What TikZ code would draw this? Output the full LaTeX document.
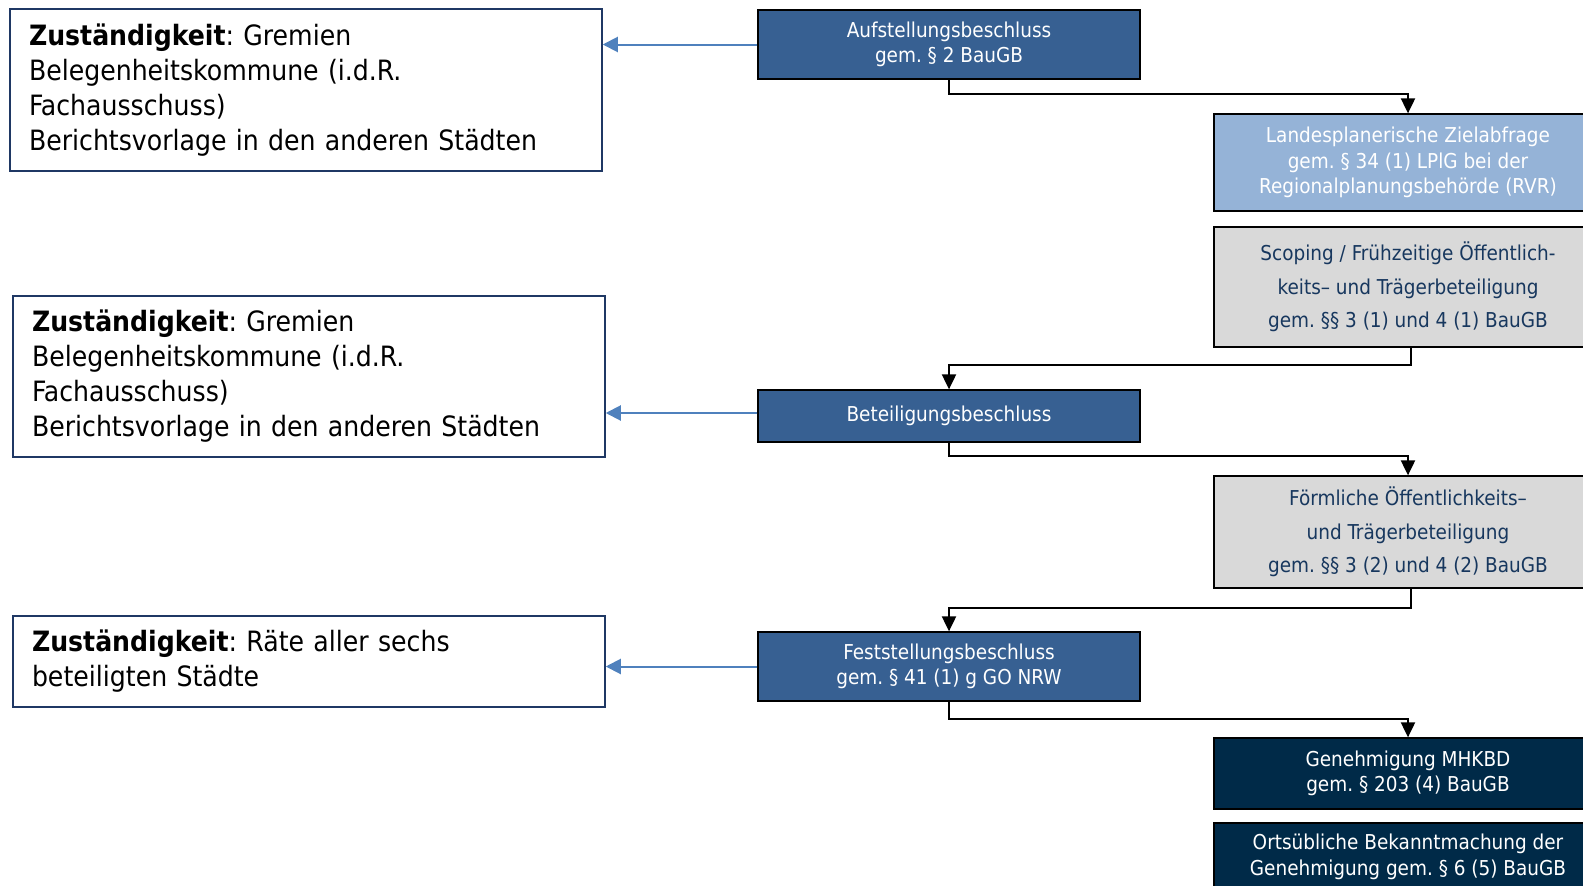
\documentclass[tikz,border=0pt]{standalone}
\usepackage{fontspec}
\setmainfont{DejaVu Sans Condensed}
\frenchspacing
\usetikzlibrary{arrows.meta, positioning}
\definecolor{beschlussblau}{RGB}{55, 96, 146}
\definecolor{hellblau}{RGB}{149, 179, 215}
\definecolor{hellgrau}{RGB}{217, 217, 217}
\definecolor{grautext}{RGB}{23, 55, 94}
\definecolor{nachtblau}{RGB}{0, 42, 72}
\definecolor{randblau}{RGB}{31, 56, 100}
\definecolor{pfeilblau}{RGB}{79, 129, 189}

\begin{document}
\begin{tikzpicture}[
    x=1pt, y=-1pt,
    zust/.style={draw=randblau, line width=1.5pt, align=left, text width=554pt,
                 inner xsep=19pt, inner ysep=0pt, font=\fontsize{28}{35}\selectfont},
    beschluss/.style={draw=black, line width=1.3pt, fill=beschlussblau, text=white,
                      align=center, minimum width=382pt, inner sep=0pt,
                      font=\fontsize{20.5}{25.5}\selectfont},
    schritt/.style={draw=black, line width=1.3pt, align=center, minimum width=388pt,
                    inner sep=0pt, font=\fontsize{20.5}{25.5}\selectfont},
    pfeil/.style={-{Triangle[length=15pt, width=14pt]}, line width=2pt, black},
    bezug/.style={-{Triangle[length=15pt, width=15pt]}, line width=2pt, pfeilblau}
  ]
    \useasboundingbox (0,0) rectangle (1583,886);
    \clip (0,0) rectangle (1583,886);

    % Zuständigkeiten links
    \node[zust, minimum height=162pt] (zust1) at (306,90)
      {\textbf{Zuständigkeit}: Gremien\\Belegenheitskommune (i.d.R.\\Fachausschuss)\\Berichtsvorlage in den anderen Städten};
    \node[zust, minimum height=161pt] (zust2) at (309,376.5)
      {\textbf{Zuständigkeit}: Gremien\\Belegenheitskommune (i.d.R.\\Fachausschuss)\\Berichtsvorlage in den anderen Städten};
    \node[zust, minimum height=91pt] (zust3) at (309,661.5)
      {\textbf{Zuständigkeit}: Räte aller sechs\\beteiligten Städte};

    % Beschluesse Mitte
    \node[beschluss, minimum height=69pt] (aufst) at (949,44.5)
      {Aufstellungsbeschluss\\gem. § 2 BauGB};
    \node[beschluss, minimum height=52pt] (beteil) at (949,416)
      {Beteiligungsbeschluss};
    \node[beschluss, minimum height=69pt] (festst) at (949,666.5)
      {Feststellungsbeschluss\\gem. § 41 (1) g GO NRW};

    % Verfahrensschritte rechts
    \node[schritt, fill=hellblau, text=white, minimum height=97pt] (landes) at (1408,162.5)
      {Landesplanerische Zielabfrage\\gem. § 34 (1) LPlG bei der\\Regionalplanungsbehörde (RVR)};
    \node[schritt, fill=hellgrau, text=grautext, minimum height=120pt,
          font=\fontsize{20.5}{33.5}\selectfont] (scoping) at (1408,287)
      {Scoping / Frühzeitige Öffentlich-\\keits– und Trägerbeteiligung\\gem. §§ 3 (1) und 4 (1) BauGB};
    \node[schritt, fill=hellgrau, text=grautext, minimum height=112pt,
          font=\fontsize{20.5}{33.5}\selectfont] (foerml) at (1408,532)
      {Förmliche Öffentlichkeits–\\und Trägerbeteiligung\\gem. §§ 3 (2) und 4 (2) BauGB};
    \node[schritt, fill=nachtblau, text=white, minimum height=71pt] (genehm) at (1408,773.5)
      {Genehmigung MHKBD\\gem. § 203 (4) BauGB};
    \node[schritt, fill=nachtblau, text=white, minimum height=68pt] (bekannt) at (1408,857)
      {Ortsübliche Bekanntmachung der\\Genehmigung gem. § 6 (5) BauGB};

    % Verbindungen
    \draw[pfeil] (aufst.south) -- ++(0,14) -| (landes.north);
    \draw[pfeil] ([xshift=3pt]scoping.south) -- ++(0,17) -| (beteil.north);
    \draw[pfeil] (beteil.south) -- ++(0,13) -| (foerml.north);
    \draw[pfeil] ([xshift=3pt]foerml.south) -- ++(0,19) -| (festst.north);
    \draw[pfeil] (festst.south) -- ++(0,17) -| (genehm.north);
    \foreach \b/\z/\d in {aufst/zust1/0, beteil/zust2/3, festst/zust3/0}
      \draw[bezug] ([yshift=\d pt]\b.west) -- ([yshift=\d pt]\b.west -| \z.east);
  \end{tikzpicture}
\end{document}
